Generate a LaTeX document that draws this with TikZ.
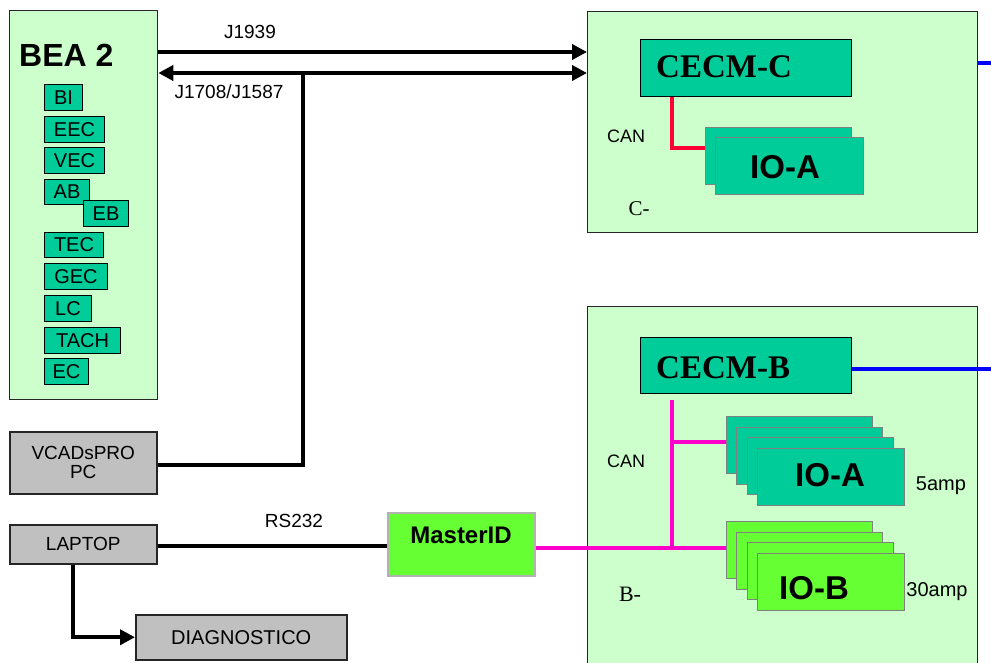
\documentclass[tikz,border=0pt]{standalone}
\usepackage{fontspec}
\setmainfont{Liberation Sans}
\newfontfamily\serifbf{Liberation Serif}
\usetikzlibrary{arrows.meta}
\newcommand\myfs[1]{\fontsize{#1}{#1}\selectfont}
\definecolor{lgreen}{HTML}{CCFFCC}
\definecolor{tealg}{HTML}{00CC99}
\definecolor{lime}{HTML}{66FF33}
\definecolor{greyb}{HTML}{C0C0C0}
\definecolor{mag}{HTML}{FF00CC}
\definecolor{redl}{HTML}{FF0033}
\definecolor{bluel}{HTML}{0000FF}
\tikzset{
  bigbox/.style={draw=black!85, fill=lgreen, line width=1.3pt},
  smbox/.style={draw=black, fill=tealg, line width=1pt, inner sep=0pt, anchor=north west, font=\myfs{20}},
  greybox/.style={draw=black!85, fill=greyb, line width=1.5pt, inner sep=0pt, anchor=north west, font=\myfs{19}, align=center},
  cecm/.style={draw=black, fill=tealg, line width=1.2pt, inner sep=0pt, anchor=north west},
  ioa/.style={draw=gray, fill=tealg, line width=1.4pt, inner sep=0pt, anchor=north west, minimum width=146, minimum height=57},
  iob/.style={draw=gray, fill=lime, line width=1.4pt, inner sep=0pt, anchor=north west, minimum width=146, minimum height=57},
  bus/.style={line width=4pt, black},
  tip/.style={-{Triangle[length=15pt,width=15pt]}},
  lbl/.style={font=\myfs{19}, inner sep=0pt},
}
\begin{document}
\begin{tikzpicture}[x=1pt,y=-1pt]
\useasboundingbox (0,0) rectangle (991,662);
% BEA 2 box
\node[bigbox, anchor=north west, minimum width=148, minimum height=389, inner sep=0pt] (bea) at (9,10) {};
\node[font=\bfseries\myfs{32}, anchor=west, inner sep=0pt] (beat) at (19,55) {BEA 2};
\node[smbox, minimum width=38, minimum height=26] (bi) at (44,84) {BI};
\node[smbox, minimum width=60, minimum height=26] (eec) at (44,116) {EEC};
\node[smbox, minimum width=60, minimum height=26] (vec) at (44,147) {VEC};
\node[smbox, minimum width=45, minimum height=25] (ab) at (44,179) {AB};
\node[smbox, minimum width=45, minimum height=26] (eb) at (83,200) {EB};
\node[smbox, minimum width=59, minimum height=25] (tec) at (44,232) {TEC};
\node[smbox, minimum width=63, minimum height=26] (gec) at (44,263) {GEC};
\node[smbox, minimum width=47, minimum height=26] (lc) at (44,295) {LC};
\node[smbox, minimum width=76, minimum height=26] (tach) at (44,327) {TACH};
\node[smbox, minimum width=44, minimum height=26] (ec) at (44,358) {EC};
% grey boxes
\node[greybox, minimum width=147, minimum height=62] (vcad) at (9,431) {VCADsPRO\\PC};
\node[greybox, minimum width=147, minimum height=39] (laptop) at (9,524) {LAPTOP};
\node[greybox, minimum width=211, minimum height=45, font=\myfs{20}] (diag) at (135,614) {DIAGNOSTICO};
% MasterID
\node[draw=black!30, fill=lime, line width=1.5pt, inner sep=0pt, anchor=north west, minimum width=147, minimum height=63] (master) at (387,512) {};
\node[font=\bfseries\myfs{24}, inner sep=0pt] (mastert) at (461,535) {MasterID};
% C box
\node[bigbox, anchor=north west, minimum width=390, minimum height=221, inner sep=0pt] (cbox) at (587,11) {};
\node[cecm, minimum width=211, minimum height=57] (cecmc) at (640,39) {};
\node[font=\serifbf\bfseries\myfs{33}, anchor=west, inner sep=0pt] (cecmct) at (656,67) {CECM-C};
\node[ioa] (ioc1) at (705,127) {};
\node[ioa, minimum width=148] (ioc2) at (715,137) {};
\node[font=\bfseries\myfs{33}, inner sep=0pt] (ioct) at (785,167) {IO-A};
\node[lbl, font=\myfs{18}] (canc) at (626,136) {CAN};
\node[font=\serifbf\myfs{21}, inner sep=0pt] (cminus) at (639,209) {C-};
% B box
\node[bigbox, anchor=north west, minimum width=390, minimum height=370, inner sep=0pt] (bbox) at (587,306) {};
\node[cecm, minimum width=211, minimum height=56] (cecmb) at (640,337) {};
\node[font=\serifbf\bfseries\myfs{33}, anchor=west, inner sep=0pt] (cecmbt) at (656,368) {CECM-B};
\node[ioa] (iba1) at (726,416) {};
\node[ioa] (iba2) at (736,427) {};
\node[ioa] (iba3) at (747,437) {};
\node[ioa, minimum width=147] (iba4) at (757,448) {};
\node[font=\bfseries\myfs{33}, inner sep=0pt] (ibat) at (830,475) {IO-A};
\node[iob] (ibb1) at (726,521) {};
\node[iob] (ibb2) at (736,532) {};
\node[iob] (ibb3) at (747,542) {};
\node[iob, minimum width=147] (ibb4) at (757,553) {};
\node[font=\bfseries\myfs{33}, inner sep=0pt] (ibbt) at (814,588) {IO-B};
\node[lbl, font=\myfs{18}] (canb) at (626,461) {CAN};
\node[lbl, font=\myfs{20}] (amp5) at (941,486) {5amp};
\node[lbl, font=\myfs{20}] (amp30) at (937,592) {30amp};
\node[font=\serifbf\myfs{22}, inner sep=0pt] (bminus) at (630,594) {B-};
% labels
\node[lbl] (j1939) at (250,32) {J1939};
\node[lbl] (j1708) at (229,92) {J1708/J1587};
\node[lbl] (rs232) at (294,521) {RS232};
% coordinates
\coordinate (tap) at (303,73);
\coordinate (edgec) at (991,63);
\coordinate (edgeb) at (991,369);
\coordinate (cantop) at (672,400);
\coordinate (canbr) at (672,442);
% black buses
\draw[bus, tip] (bea.east |- 0,52) -- (cbox.west |- 0,52);
\draw[bus, {Triangle[length=15pt,width=15pt]}-{Triangle[length=15pt,width=15pt]}] (bea.east |- 0,73) -- (cbox.west |- 0,73);
\draw[bus] (vcad.east |- 0,465) -| (tap);
\draw[bus] (laptop.east |- 0,546) -- (master.west |- 0,546);
\draw[bus, tip] (laptop.south -| 73,0) |- (diag.west);
% blue
\draw[bluel, line width=4pt] (cbox.east |- edgec) -- (edgec);
\draw[bluel, line width=4pt] (cecmb.east |- edgeb) -- (edgeb);
% red CAN
\draw[redl, line width=4pt] (cecmc.south -| 672,0) |- (ioc1.west |- 0,148);
% magenta CAN
\draw[mag, line width=4pt] (master.east |- 0,548) -- (ibb1.west |- 0,548);
\draw[mag, line width=4pt] (cantop) -- (672,548);
\draw[mag, line width=4pt] (canbr) -- (iba1.west |- canbr);
\end{tikzpicture}
\end{document}
